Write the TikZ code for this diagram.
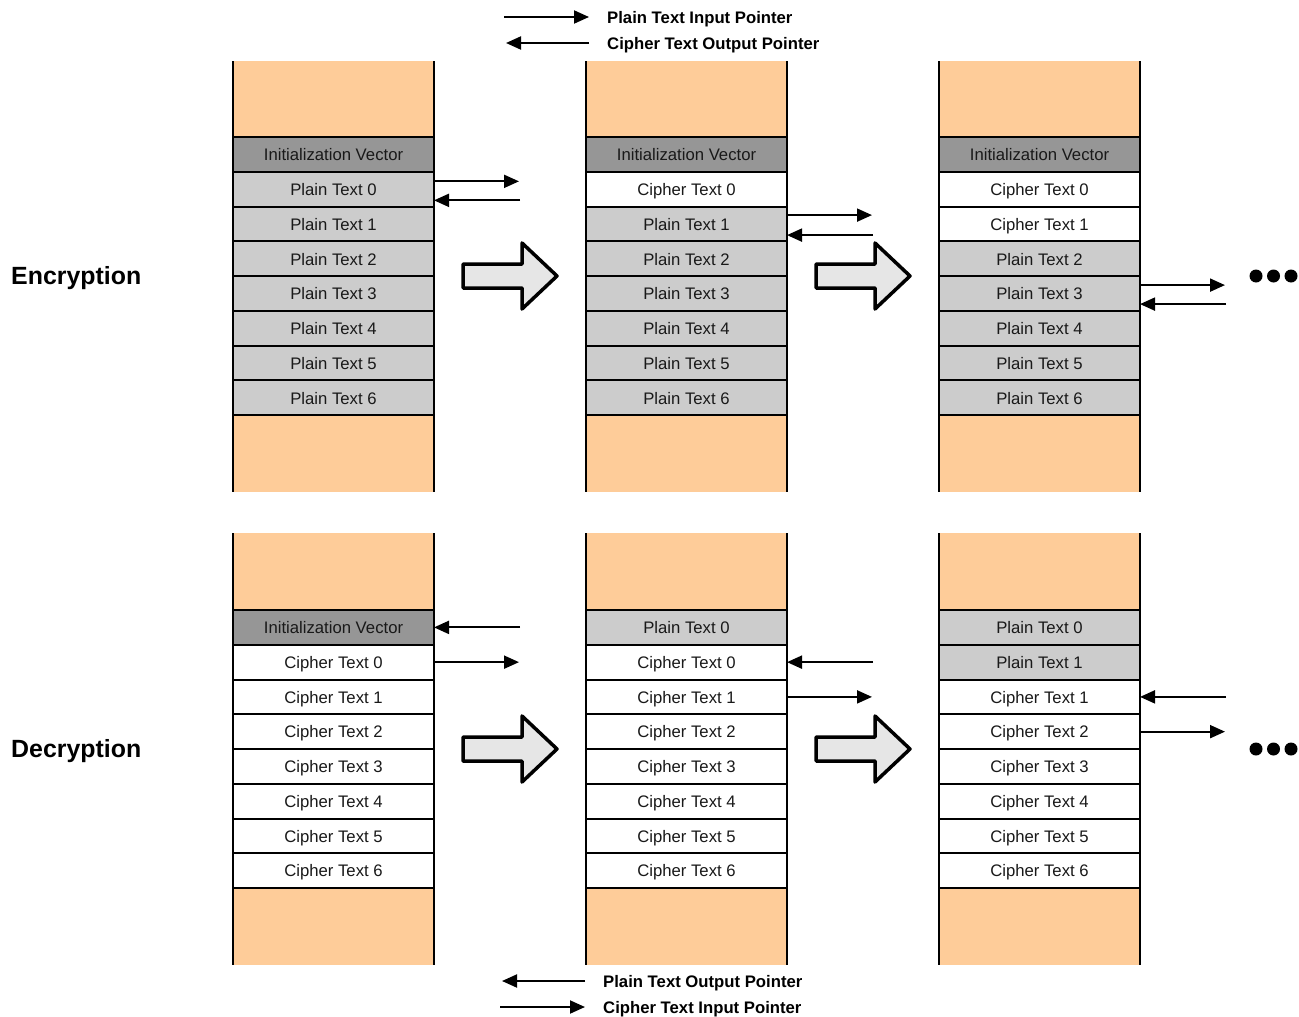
\documentclass[tikz,border=0pt]{standalone}
\usepackage{fontspec}
\setmainfont{Liberation Sans}
\usetikzlibrary{
    arrows.meta,
    positioning
}
\definecolor{ink}{RGB}{0,0,0}
\definecolor{buffer}{RGB}{254,204,153}
\definecolor{ivgray}{RGB}{150,150,150}
\definecolor{plaingray}{RGB}{204,204,204}
\definecolor{arrowfill}{RGB}{230,230,230}
\tikzset{
    cell/.style={
        rectangle,
        draw=ink,
        line width=2pt,
        minimum width=201pt,
        minimum height=34.75pt,
        inner sep=0pt,
        outer sep=0pt,
        text height=14pt,
        text depth=1.5pt,
        font=\fontsize{16.7}{20}\selectfont,
        text=ink!90
    },
    ivcell/.style={cell, fill=ivgray},
    plaincell/.style={cell, fill=plaingray},
    ciphercell/.style={cell, fill=white},
    colside/.style={
        draw=ink,
        line width=2.4pt
    },
    ptr/.style={
        -{Triangle[length=15pt,width=13pt]},
        draw=ink,
        line width=2pt
    },
    fatarrow/.style={
        draw=ink,
        fill=arrowfill,
        line width=3.5pt,
        line join=round
    },
    legendtext/.style={
        font=\bfseries\fontsize{16.7}{20}\selectfont,
        anchor=west,
        inner sep=0pt,
        text height=14pt,
        text depth=1.5pt
    },
    sectitle/.style={
        font=\bfseries\fontsize{24.9}{28}\selectfont,
        anchor=west,
        inner sep=0pt,
        text height=20pt,
        text depth=3pt
    },
    dot/.style={
        circle,
        fill=ink,
        inner sep=0pt,
        minimum size=13pt
    }
}

\begin{document}
\begin{tikzpicture}[x=1pt, y=-1pt]
\useasboundingbox (0,0) rectangle (1299,1017);

% Free buffer space above and below the data
\foreach \cx in {233, 586, 939} {
    \fill[buffer] (\cx,61) rectangle ({\cx+201},137.2);
    \fill[buffer] (\cx,415.2) rectangle ({\cx+201},492);
    \fill[buffer] (\cx,533) rectangle ({\cx+201},610);
    \fill[buffer] (\cx,888) rectangle ({\cx+201},965);
}

% Encryption: three passes
\foreach \lbl/\sty [count=\i from 0] in {Initialization Vector/ivcell, Plain Text 0/plaincell,
    Plain Text 1/plaincell, Plain Text 2/plaincell, Plain Text 3/plaincell,
    Plain Text 4/plaincell, Plain Text 5/plaincell, Plain Text 6/plaincell}
    \node[\sty] (enc-a-\i) at (333.5, {154.6+34.75*\i}) {\lbl};
\foreach \lbl/\sty [count=\i from 0] in {Initialization Vector/ivcell, Cipher Text 0/ciphercell,
    Plain Text 1/plaincell, Plain Text 2/plaincell, Plain Text 3/plaincell,
    Plain Text 4/plaincell, Plain Text 5/plaincell, Plain Text 6/plaincell}
    \node[\sty] (enc-b-\i) at (686.5, {154.6+34.75*\i}) {\lbl};
\foreach \lbl/\sty [count=\i from 0] in {Initialization Vector/ivcell, Cipher Text 0/ciphercell,
    Cipher Text 1/ciphercell, Plain Text 2/plaincell, Plain Text 3/plaincell,
    Plain Text 4/plaincell, Plain Text 5/plaincell, Plain Text 6/plaincell}
    \node[\sty] (enc-c-\i) at (1039.5, {154.6+34.75*\i}) {\lbl};

% Decryption: three passes
\foreach \lbl/\sty [count=\i from 0] in {Initialization Vector/ivcell, Cipher Text 0/ciphercell,
    Cipher Text 1/ciphercell, Cipher Text 2/ciphercell, Cipher Text 3/ciphercell,
    Cipher Text 4/ciphercell, Cipher Text 5/ciphercell, Cipher Text 6/ciphercell}
    \node[\sty] (dec-a-\i) at (333.5, {627.4+34.75*\i}) {\lbl};
\foreach \lbl/\sty [count=\i from 0] in {Plain Text 0/plaincell, Cipher Text 0/ciphercell,
    Cipher Text 1/ciphercell, Cipher Text 2/ciphercell, Cipher Text 3/ciphercell,
    Cipher Text 4/ciphercell, Cipher Text 5/ciphercell, Cipher Text 6/ciphercell}
    \node[\sty] (dec-b-\i) at (686.5, {627.4+34.75*\i}) {\lbl};
\foreach \lbl/\sty [count=\i from 0] in {Plain Text 0/plaincell, Plain Text 1/plaincell,
    Cipher Text 1/ciphercell, Cipher Text 2/ciphercell, Cipher Text 3/ciphercell,
    Cipher Text 4/ciphercell, Cipher Text 5/ciphercell, Cipher Text 6/ciphercell}
    \node[\sty] (dec-c-\i) at (1039.5, {627.4+34.75*\i}) {\lbl};

% Column walls
\foreach \cx in {233, 586, 939} {
    \draw[colside] (\cx,61) -- (\cx,492);
    \draw[colside] ({\cx+201},61) -- ({\cx+201},492);
    \draw[colside] (\cx,533) -- (\cx,965);
    \draw[colside] ({\cx+201},533) -- ({\cx+201},965);
}

% Pointers, encryption
\draw[ptr] ([yshift=8pt]enc-a-1.east) -- +(85,0);
\draw[ptr] ([shift={(86,11)}]enc-a-1.east) -- ([yshift=-11pt]enc-a-1.east);
\draw[ptr] ([yshift=9pt]enc-b-2.east) -- +(85,0);
\draw[ptr] ([shift={(86,11)}]enc-b-2.east) -- ([yshift=-11pt]enc-b-2.east);
\draw[ptr] ([yshift=8.5pt]enc-c-4.east) -- +(85,0);
\draw[ptr] ([shift={(86,10.5)}]enc-c-4.east) -- ([yshift=-10.5pt]enc-c-4.east);

% Pointers, decryption
\draw[ptr] ([xshift=86pt]dec-a-0.east) -- (dec-a-0.east);
\draw[ptr] (dec-a-1.east) -- +(85,0);
\draw[ptr] ([xshift=86pt]dec-b-1.east) -- (dec-b-1.east);
\draw[ptr] (dec-b-2.east) -- +(85,0);
\draw[ptr] ([xshift=86pt]dec-c-2.east) -- (dec-c-2.east);
\draw[ptr] (dec-c-3.east) -- +(85,0);

% Step arrows between passes
\foreach \ax/\ay in {463/276, 816/276, 463/749, 816/749}
    \draw[fatarrow] (\ax,\ay) ++(0,-12) -- ++(59,0) -- ++(0,-21) -- ++(35,33)
        -- ++(-35,33) -- ++(0,-21) -- ++(-59,0) -- cycle;

% Continuation dots
\foreach \dy [count=\j] in {276, 749}
    \foreach \dx [count=\k] in {1256, 1273.5, 1291}
        \node[dot] (more-\j-\k) at (\dx,\dy) {};

% Section titles
\node[sectitle] (enc-title) at (11,276) {Encryption};
\node[sectitle] (dec-title) at (11,749) {Decryption};

% Legends
\node[legendtext] (leg-ptin) at (607,17) {Plain Text Input Pointer};
\node[legendtext] (leg-ctout) at (607,43) {Cipher Text Output Pointer};
\draw[ptr] ([xshift=-103pt]leg-ptin.west) -- ([xshift=-18pt]leg-ptin.west);
\draw[ptr] ([xshift=-18pt]leg-ctout.west) -- ([xshift=-101pt]leg-ctout.west);

\node[legendtext] (leg-ptout) at (603,981) {Plain Text Output Pointer};
\node[legendtext] (leg-ctin) at (603,1007) {Cipher Text Input Pointer};
\draw[ptr] ([xshift=-18pt]leg-ptout.west) -- ([xshift=-101pt]leg-ptout.west);
\draw[ptr] ([xshift=-103pt]leg-ctin.west) -- ([xshift=-18pt]leg-ctin.west);
\end{tikzpicture}
\end{document}
